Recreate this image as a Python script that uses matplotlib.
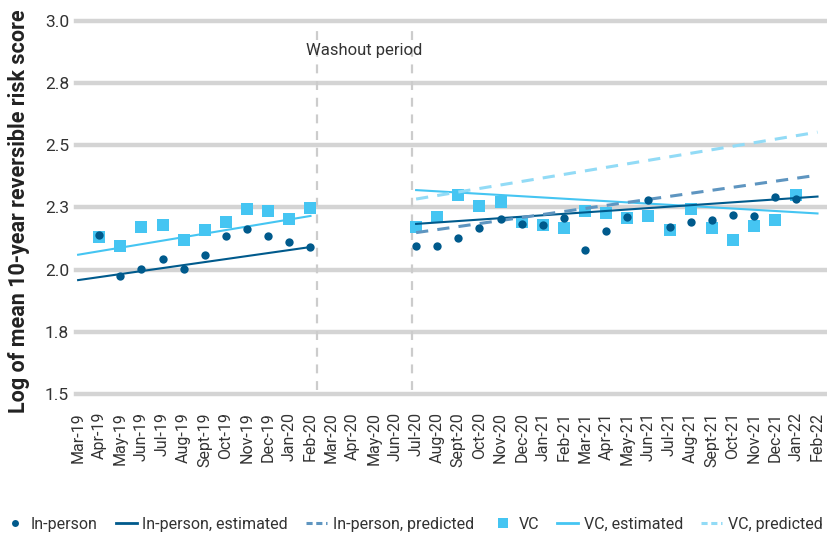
import matplotlib
matplotlib.use("Agg")
import matplotlib.pyplot as plt
from matplotlib.lines import Line2D

# ======================================================
# DATA
# ======================================================

months = [
    "Mar-19", "Apr-19", "May-19", "Jun-19", "Jul-19", "Aug-19", "Sept-19",
    "Oct-19", "Nov-19", "Dec-19", "Jan-20", "Feb-20", "Mar-20", "Apr-20",
    "May-20", "Jun-20", "Jul-20", "Aug-20", "Sept-20", "Oct-20", "Nov-20",
    "Dec-20", "Jan-21", "Feb-21", "Mar-21", "Apr-21", "May-21", "Jun-21",
    "Jul-21", "Aug-21", "Sept-21", "Oct-21", "Nov-21", "Dec-21", "Jan-22",
    "Feb-22"
]

# observed months: Apr-19..Feb-20 and Jul-20..Jan-22
pre_months = months[1:12]
post_months = months[16:35]

inperson_pre = [2.139, 1.976, 2.002, 2.043, 2.002, 2.059, 2.137, 2.164, 2.135, 2.111, 2.091]
vc_pre = [2.133, 2.095, 2.172, 2.180, 2.119, 2.160, 2.193, 2.244, 2.236, 2.204, 2.249]

inperson_post = [2.096, 2.094, 2.127, 2.166, 2.203, 2.182, 2.178, 2.208, 2.080, 2.154,
                 2.213, 2.279, 2.172, 2.192, 2.199, 2.220, 2.215, 2.293, 2.284]
vc_post = [2.173, 2.213, 2.300, 2.257, 2.273, 2.193, 2.180, 2.169, 2.236, 2.227,
           2.209, 2.217, 2.160, 2.244, 2.169, 2.119, 2.177, 2.200, 2.300]

# fitted lines: (start month, end month, start value, end value)
inperson_est_pre = ("Mar-19", "Feb-20", 1.958, 2.091)
vc_est_pre = ("Mar-19", "Feb-20", 2.060, 2.216)
inperson_est_post = ("Jul-20", "Feb-22", 2.184, 2.294)
vc_est_post = ("Jul-20", "Feb-22", 2.320, 2.226)
inperson_pred = ("Jul-20", "Feb-22", 2.149, 2.380)
vc_pred = ("Jul-20", "Feb-22", 2.284, 2.553)

y_ticks = [1.5, 1.75, 2.0, 2.25, 2.5, 2.75, 3.0]
y_tick_labels = ["1.5", "1.8", "2.0", "2.3", "2.5", "2.8", "3.0"]

# ======================================================
# STYLE
# ======================================================

plt.rcParams["font.family"] = ["Roboto", "DejaVu Sans"]

DARK = "#005a8c"
DARK_PRED = "#5e95c0"
LIGHT = "#45c5f2"
LIGHT_PRED = "#92dbf6"
GRID = "#d4d4d4"
TEXT = "#333333"


def pos(m):
    return months.index(m)


def draw_fit(ax, fit, **kw):
    m0, m1, v0, v1 = fit
    ax.plot([pos(m0), pos(m1)], [v0, v1], **kw)


# ======================================================
# GRAPH
# ======================================================

fig = plt.figure(figsize=(8.27, 5.37), dpi=100)
ax = fig.add_axes([0.0919, 0.2663, 0.9081, 0.6946])

ax.set_xlim(-0.1, 35.45)
ax.set_ylim(1.5, 3.0)

for v in y_ticks:
    ax.axhline(v, color=GRID, lw=3.2, zorder=0, clip_on=False)

ax.axvline(11.3, ymin=0.01, ymax=0.99, color="#cccccc", lw=1.6,
           dashes=(4, 3.5), zorder=1)
ax.axvline(15.8, ymin=0.01, ymax=0.99, color="#cccccc", lw=1.6,
           dashes=(4, 3.5), zorder=1)
ax.text(13.55, 2.88, "Washout period", ha="center", va="center",
        fontsize=12, color=TEXT)

pre_x = [pos(m) for m in pre_months]
post_x = [pos(m) for m in post_months]

ax.plot(pre_x, vc_pre, "s", color=LIGHT, ms=8.8, mew=0, zorder=2)
ax.plot(post_x, vc_post, "s", color=LIGHT, ms=8.8, mew=0, zorder=2)

draw_fit(ax, vc_est_pre, color=LIGHT, lw=1.5, zorder=3)
draw_fit(ax, vc_est_post, color=LIGHT, lw=1.5, zorder=3)
draw_fit(ax, inperson_est_pre, color=DARK, lw=1.5, zorder=3)
draw_fit(ax, inperson_est_post, color=DARK, lw=1.5, zorder=3)
draw_fit(ax, inperson_pred, color=DARK_PRED, lw=2.2, dashes=(4, 3), zorder=3)
draw_fit(ax, vc_pred, color=LIGHT_PRED, lw=2.2, dashes=(4, 3), zorder=3)

ax.plot(pre_x, inperson_pre, "o", color=DARK, ms=6, mew=0, zorder=4)
ax.plot(post_x, inperson_post, "o", color=DARK, ms=6, mew=0, zorder=4)

ax.set_yticks(y_ticks)
ax.set_yticklabels(y_tick_labels)
ax.set_xticks(range(len(months)))
ax.set_xticklabels(months, rotation=90)
ax.tick_params(axis="both", length=0, colors=TEXT)
ax.tick_params(axis="y", labelsize=12.5, pad=5)
ax.tick_params(axis="x", labelsize=11.5, pad=13)

for s in ax.spines.values():
    s.set_visible(False)

fig.text(0.023, 0.607, "Log of mean 10-year reversible risk score",
         rotation=90, ha="center", va="center", fontsize=15.5,
         fontweight="bold", color="#222222")

handles = [
    Line2D([], [], ls="none", marker="o", ms=5, color=DARK, mew=0),
    Line2D([], [], color=DARK, lw=2),
    Line2D([], [], color=DARK_PRED, lw=2.2, dashes=(2, 1.2)),
    Line2D([], [], ls="none", marker="s", ms=7, color=LIGHT, mew=0),
    Line2D([], [], color=LIGHT, lw=2),
    Line2D([], [], color=LIGHT_PRED, lw=2.2, dashes=(2, 1.2)),
]
names = ["In-person", "In-person, estimated", "In-person, predicted",
         "VC", "VC, estimated", "VC, predicted"]

fig.legend(handles, names, loc="center", bbox_to_anchor=(0.5, 0.024),
           ncol=6, frameon=False, fontsize=11.5, handlelength=1.3,
           handletextpad=0.35, columnspacing=1.15, labelcolor=TEXT)

plt.savefig("out.png", dpi=100)
